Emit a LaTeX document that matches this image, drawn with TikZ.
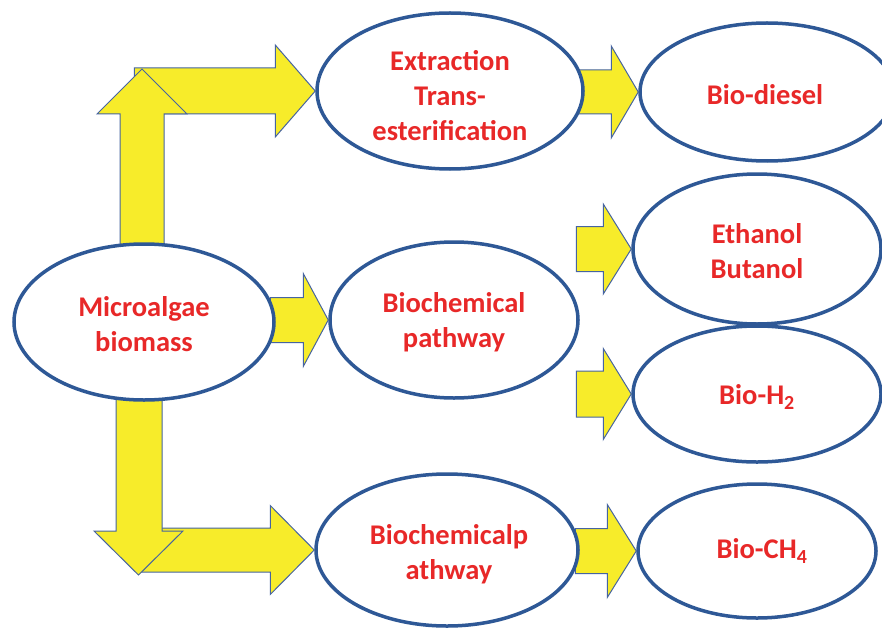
\documentclass[tikz,border=0pt]{standalone}
\usepackage{fontspec}
\setmainfont{Carlito}
\usetikzlibrary{shapes.geometric,calc}
\definecolor{elblue}{RGB}{46,88,150}
\definecolor{arrfill}{RGB}{247,236,42}
\definecolor{arredge}{RGB}{70,100,160}
\definecolor{txtred}{RGB}{232,40,40}
\pgfdeclarelayer{bg}
\pgfsetlayers{bg,main}
\tikzset{
  oval/.style={ellipse, draw=elblue, line width=3.5pt, fill=white, inner sep=0pt},
  lbl/.style={text=txtred, font=\fontsize{28.5}{35}\selectfont\bfseries, align=center, inner sep=0pt},
  blk/.style={fill=arrfill, draw=arredge, line width=1pt, line join=miter},
}
% right-pointing block arrow: #1 tip, #2 total length, #3 head length, #4 half shaft, #5 half head
\newcommand{\rblockarrow}[5]{%
  \draw[blk, shift={(#1)}] (-#2,-#4) -- (-#3,-#4) -- (-#3,-#5) -- (0,0) -- (-#3,#5) -- (-#3,#4) -- (-#2,#4) -- cycle;}
\begin{document}
\begin{tikzpicture}[x=1pt,y=-1pt]
\useasboundingbox (0,0) rectangle (882,631);
\clip (0,0) rectangle (882,631);

% ellipses
\node[oval, minimum width=260pt, minimum height=156pt] (micro)   at (144,322) {};
\node[oval, minimum width=266pt, minimum height=156pt] (ext)     at (450,91)  {};
\node[oval, minimum width=254pt, minimum height=138pt] (diesel)  at (767,92)  {};
\node[oval, minimum width=248pt, minimum height=156pt] (biochem) at (454,320) {};
\node[oval, minimum width=248pt, minimum height=150pt] (ethanol) at (757,249) {};
\node[oval, minimum width=248pt, minimum height=136pt] (htwo)    at (757,394) {};
\node[oval, minimum width=262pt, minimum height=152pt] (biochp)  at (447,550) {};
\node[oval, minimum width=238pt, minimum height=134pt] (methane) at (757,551) {};

% labels
\node[lbl] (tmicro)   at (144,324) {Microalgae\\biomass};
\node[lbl] (text)     at (450,96)  {Extraction\\Trans-\\esterification};
\node[lbl] (tdiesel)  at (765,95)  {Bio-diesel};
\node[lbl] (tbiochem) at (454,322) {Biochemical\\pathway};
\node[lbl] (tethanol) at (757,251) {Ethanol\\Butanol};
\node[lbl] (thtwo)    at (757,397) {Bio-H\textsubscript{2}};
\node[lbl] (tbiochp)  at (449,554) {Biochemicalp\\athway};
\node[lbl] (tmethane) at (762,551) {Bio-CH\textsubscript{4}};

% block arrows behind the ellipses
\begin{pgfonlayer}{bg}
  \fill[white] (0,0) rectangle (882,631);
  \rblockarrow{ext.west}{181}{40}{23}{46}
  \draw[blk] (120,250) -- (120,114) -- (97,114) -- (142,69) -- (187,114) -- (164,114) -- (164,250) -- cycle;
  \rblockarrow{biochp.west}{177}{44}{22}{44.5}
  \draw[blk] (116,395) -- (116,531) -- (94,531) -- (138.5,575) -- (183,531) -- (162,531) -- (162,395) -- cycle;
  \rblockarrow{biochem.west}{58}{25}{22.5}{46.5}
  \rblockarrow{diesel.west}{60}{27}{22}{46}
  \rblockarrow{ethanol.west}{55}{28}{22.5}{45}
  \rblockarrow{htwo.west}{55}{28}{23}{45.5}
  \rblockarrow{methane.west}{61}{29}{22.5}{46.5}
\end{pgfonlayer}
\end{tikzpicture}
\end{document}
